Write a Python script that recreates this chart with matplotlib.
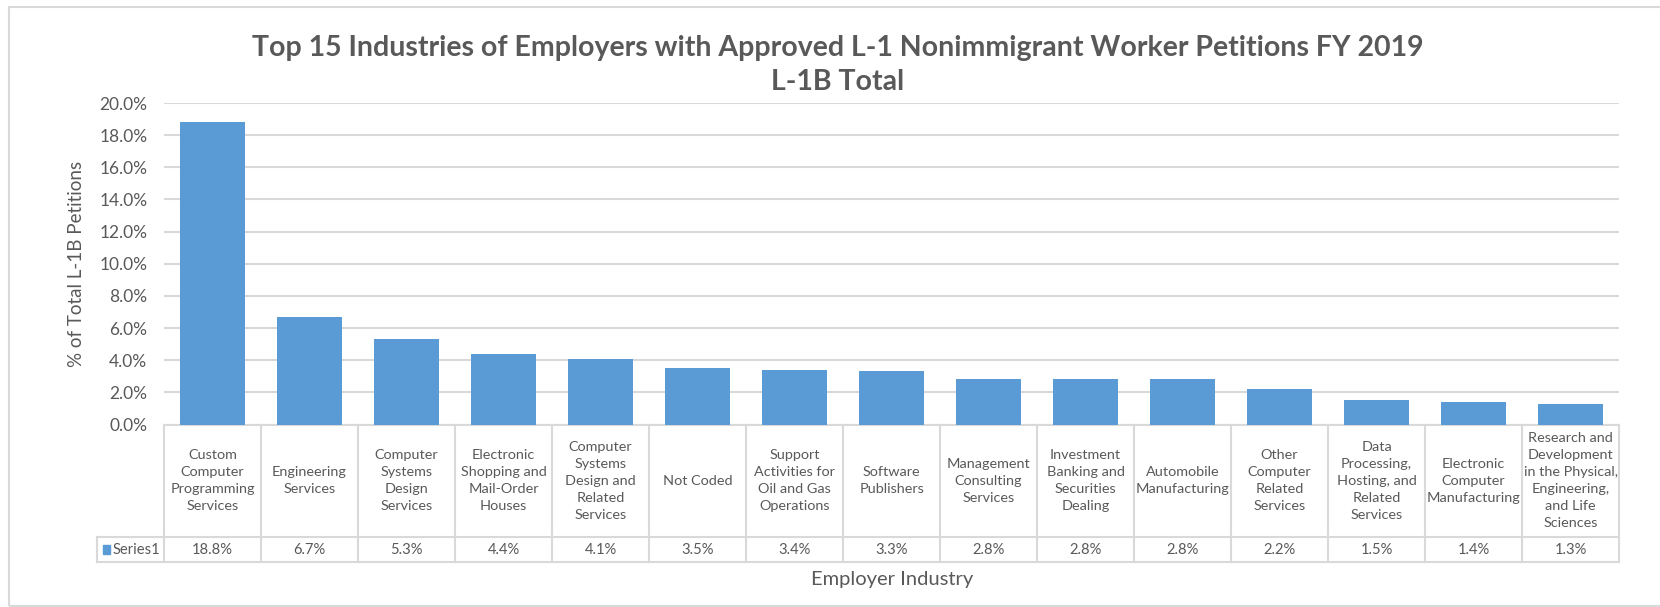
import matplotlib
matplotlib.use("Agg")
import matplotlib.pyplot as plt
from matplotlib.transforms import blended_transform_factory
from matplotlib.patches import Rectangle
from matplotlib.ticker import FuncFormatter

plt.rcParams['font.family'] = ['Lato', 'DejaVu Sans']

categories = [
    "Custom\nComputer\nProgramming\nServices",
    "Engineering\nServices",
    "Computer\nSystems\nDesign\nServices",
    "Electronic\nShopping and\nMail-Order\nHouses",
    "Computer\nSystems\nDesign and\nRelated\nServices",
    "Not Coded",
    "Support\nActivities for\nOil and Gas\nOperations",
    "Software\nPublishers",
    "Management\nConsulting\nServices",
    "Investment\nBanking and\nSecurities\nDealing",
    "Automobile\nManufacturing",
    "Other\nComputer\nRelated\nServices",
    "Data\nProcessing,\nHosting, and\nRelated\nServices",
    "Electronic\nComputer\nManufacturing",
    "Research and\nDevelopment\nin the Physical,\nEngineering,\nand Life\nSciences",
]
values = [18.8, 6.7, 5.3, 4.4, 4.1, 3.5, 3.4, 3.3, 2.8, 2.8, 2.8, 2.2, 1.5, 1.4, 1.3]
series_name = "Series1"
title = "Top 15 Industries of Employers with Approved L-1 Nonimmigrant Worker Petitions FY 2019\nL-1B Total"
ylabel = "% of Total L-1B Petitions"
xlabel = "Employer Industry"

W, H = 1660, 607
BAR = "#5B9BD5"
TXT = "#595959"
GRID = "#D9D9D9"

fig = plt.figure(figsize=(W / 100, H / 100), dpi=100)

def fx(x):
    return x / W

def fy(y):
    return 1 - y / H

left, right, top, bottom = 164, 1619, 103, 424.5
ax = fig.add_axes([fx(left), fy(bottom), fx(right - left), (bottom - top) / H])

n = len(values)
xs = list(range(n))
ax.bar(xs, values, width=0.66, color=BAR, zorder=3)
ax.set_xlim(-0.5, n - 0.5)
ax.set_ylim(0, 20)
ax.set_yticks([i * 2 for i in range(11)])
ax.yaxis.set_major_formatter(FuncFormatter(lambda v, p: f"{v:.1f}%"))
ax.tick_params(axis='y', length=0, pad=12, labelsize=12.5, labelcolor=TXT)
ax.tick_params(axis='x', length=0, labelbottom=False)
ax.grid(axis='y', color=GRID, linewidth=1.5, zorder=0)
for s in ax.spines.values():
    s.set_visible(False)
ax.set_ylabel(ylabel, fontsize=13.5, color=TXT, labelpad=10)

# data table below the axis
tr = blended_transform_factory(ax.transData, ax.transAxes)
ph = bottom - top
y_top = 0.0
y_mid = -(537 - bottom) / ph
y_bot = -(562 - bottom) / ph
x_leg = -0.5 - (left - 97) / ((right - left) / n)

lw = 1.5
ax.plot([-0.5, n - 0.5], [y_top, y_top], color=GRID, lw=lw, transform=tr, clip_on=False)
ax.plot([x_leg, n - 0.5], [y_mid, y_mid], color=GRID, lw=lw, transform=tr, clip_on=False)
ax.plot([x_leg, n - 0.5], [y_bot, y_bot], color=GRID, lw=lw, transform=tr, clip_on=False)
ax.plot([x_leg, x_leg], [y_mid, y_bot], color=GRID, lw=lw, transform=tr, clip_on=False)
for i in range(n + 1):
    ax.plot([i - 0.5, i - 0.5], [y_top, y_bot], color=GRID, lw=lw, transform=tr, clip_on=False)

for i, (c, v) in enumerate(zip(categories, values)):
    ax.text(i, (y_top + y_mid) / 2, c, transform=tr, ha='center', va='center',
            fontsize=10.4, color=TXT, linespacing=1.5)
    ax.text(i, (y_mid + y_bot) / 2, f"{v:.1f}%", transform=tr, ha='center', va='center',
            fontsize=10.6, color=TXT)

ax.add_patch(Rectangle((x_leg + 0.06, (y_mid + y_bot) / 2 - 0.013), 0.07, 0.026,
                       transform=tr, color=BAR, clip_on=False))
ax.text(x_leg + 0.16, (y_mid + y_bot) / 2, series_name, transform=tr, ha='left', va='center',
        fontsize=10.6, color=TXT)

# title and x label
fig.text(fx(838), fy(65), title, ha='center', va='center', fontsize=20.5,
         fontweight='bold', color=TXT, linespacing=1.38)
fig.text(fx(892), fy(580), xlabel, ha='center', va='center', fontsize=14.5, color=TXT)

# outer chart border
fig.patches.append(Rectangle((fx(9), fy(606)), fx(1700), (606 - 7) / H, transform=fig.transFigure,
                             fill=False, edgecolor=GRID, lw=1.5))

fig.savefig("out.png", dpi=100, facecolor="white")
